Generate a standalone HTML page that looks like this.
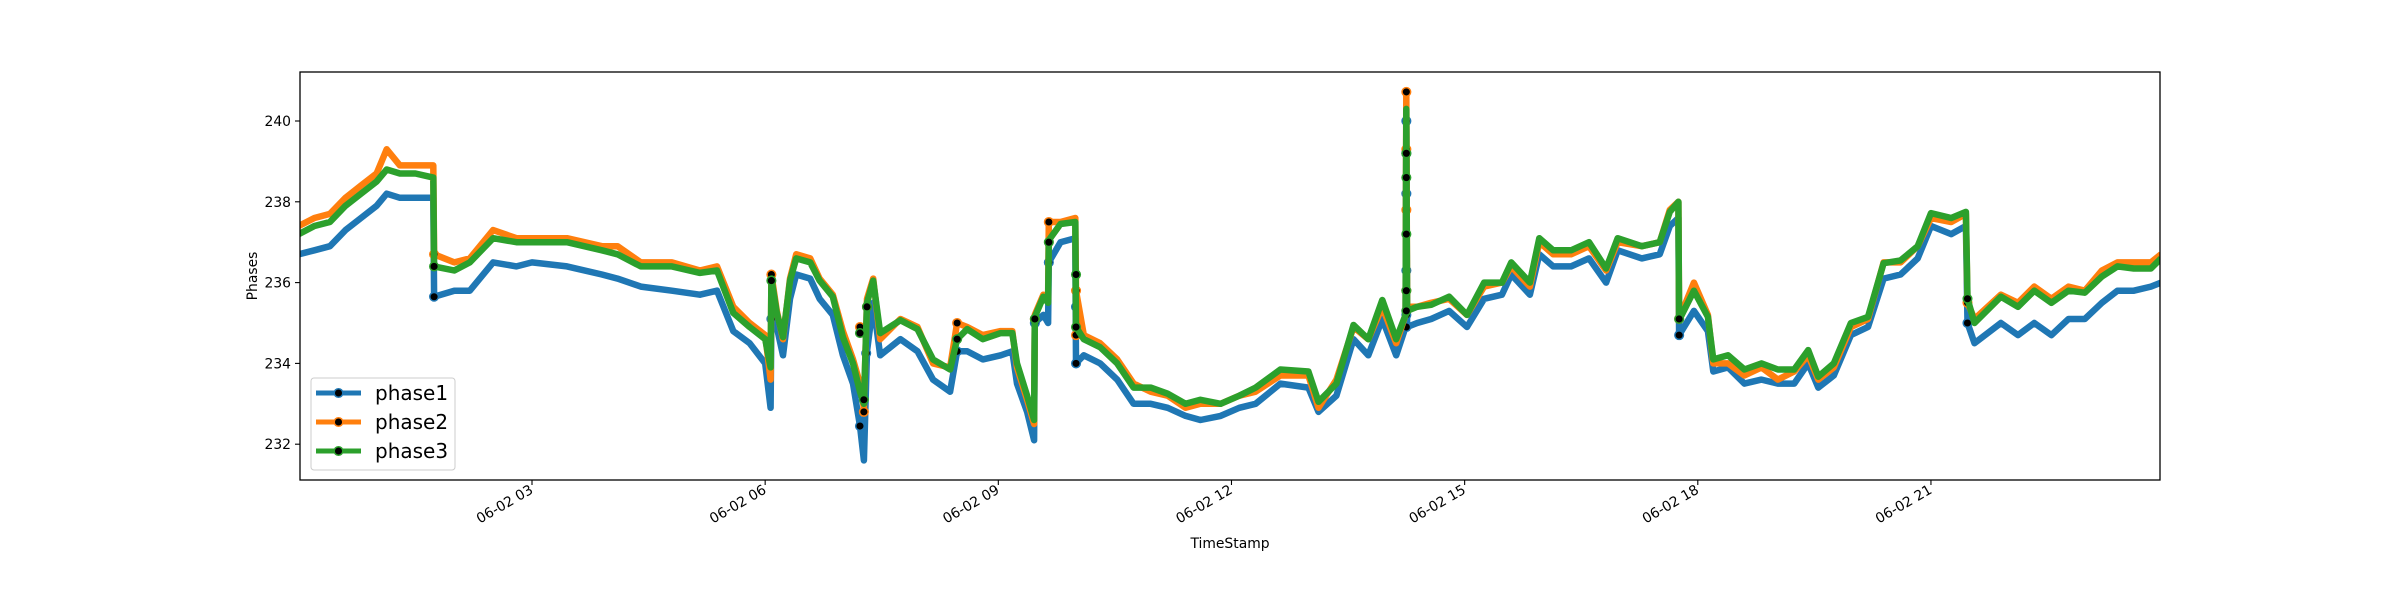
<!DOCTYPE html>
<html><head><meta charset="utf-8">
<style>
html,body{margin:0;padding:0;background:#fff;}
svg{display:block;font-family:"DejaVu Sans","Liberation Sans",sans-serif;}
</style></head>
<body>
<svg id="chart" width="2400" height="600" viewBox="0 0 2400 600" xmlns="http://www.w3.org/2000/svg">
<rect x="0" y="0" width="2400" height="600" fill="#fff"/>
<g id="plot"></g>
<g id="axes"></g>
</svg>
<script>
const times = [0,0.2,0.4,0.6,0.8,1.0,1.13,1.3,1.5,1.73,
1.74,2.0,2.2,2.5,2.8,3.0,3.45,3.9,4.1,4.4,
4.8,5.16,5.38,5.59,5.8,6.0,6.07,6.08,6.15,6.23,
6.32,6.4,6.58,6.7,6.87,7.0,7.13,7.22,7.27,7.31,
7.39,7.48,7.74,7.96,8.16,8.38,8.47,8.6,8.8,9.03,
9.18,9.24,9.37,9.46,9.47,9.58,9.64,9.65,9.8,9.99,
10.0,10.1,10.31,10.53,10.74,10.96,11.18,11.41,11.6,11.86,
12.1,12.31,12.63,12.99,13.12,13.35,13.57,13.76,13.94,14.12,
14.24,14.25,14.26,14.39,14.57,14.8,15.03,15.25,15.48,15.6,
15.84,15.96,16.14,16.37,16.6,16.82,16.97,17.28,17.51,17.64,
17.75,17.76,17.95,18.13,18.2,18.39,18.6,18.82,19.03,19.24,
19.42,19.55,19.75,19.97,20.19,20.39,20.61,20.83,21.0,21.26,
21.45,21.47,21.56,21.9,22.12,22.33,22.55,22.77,22.98,23.2,
23.4,23.61,23.83,23.96];
const phase1 = [236.7,236.8,236.9,237.3,237.6,237.9,238.2,238.1,238.1,238.1,
235.65,235.8,235.8,236.5,236.4,236.5,236.4,236.2,236.1,235.9,
235.8,235.7,235.8,234.8,234.5,234.0,232.9,235.1,234.9,234.2,
235.6,236.2,236.1,235.6,235.2,234.2,233.5,232.45,231.6,234.3,
235.5,234.2,234.6,234.3,233.6,233.3,234.3,234.3,234.1,234.2,
234.3,233.5,232.8,232.1,235.0,235.2,235.0,236.5,237.0,237.1,
234.0,234.2,234.0,233.6,233.0,233.0,232.9,232.7,232.6,232.7,
232.9,233.0,233.5,233.4,232.8,233.2,234.6,234.2,235.1,234.2,
234.9,240.0,234.9,235.0,235.1,235.3,234.9,235.6,235.7,236.2,
235.7,236.7,236.4,236.4,236.6,236.0,236.8,236.6,236.7,237.4,
237.6,234.7,235.3,234.8,233.8,233.9,233.5,233.6,233.5,233.5,
234.0,233.4,233.7,234.7,234.9,236.1,236.2,236.6,237.4,237.2,
237.4,235.0,234.5,235.0,234.7,235.0,234.7,235.1,235.1,235.5,
235.8,235.8,235.9,236.0];
const phase2 = [237.4,237.6,237.7,238.1,238.4,238.7,239.3,238.9,238.9,238.9,
236.7,236.5,236.6,237.3,237.1,237.1,237.1,236.9,236.9,236.5,
236.5,236.3,236.4,235.4,235.0,234.7,233.6,236.2,235.3,234.6,
236.1,236.7,236.6,236.1,235.7,234.8,234.1,233.5,232.9,235.6,
236.1,234.6,235.1,234.9,234.0,233.9,235.0,234.9,234.7,234.8,
234.8,233.9,233.1,232.5,235.2,235.7,235.6,237.5,237.5,237.6,
235.8,234.7,234.5,234.1,233.5,233.3,233.2,232.9,233.0,233.0,
233.2,233.3,233.7,233.7,232.9,233.6,234.9,234.6,235.4,234.5,
235.2,240.7,235.4,235.4,235.5,235.6,235.2,235.9,236.0,236.4,
235.9,237.0,236.7,236.7,236.9,236.3,237.0,236.9,237.0,237.8,
238.0,235.1,236.0,235.2,234.0,234.0,233.7,233.9,233.6,233.8,
234.2,233.6,233.9,234.9,235.1,236.5,236.5,236.9,237.6,237.5,
237.7,235.5,235.1,235.7,235.5,235.9,235.6,235.9,235.8,236.3,
236.5,236.5,236.5,236.7];
const phase3 = [237.2,237.4,237.5,237.9,238.2,238.5,238.8,238.7,238.7,238.6,
236.4,236.3,236.5,237.1,237.0,237.0,237.0,236.8,236.7,236.4,
236.4,236.24,236.3,235.25,234.9,234.6,233.9,236.1,235.25,234.65,
236.05,236.6,236.5,236.05,235.65,234.65,234.0,233.3,233.0,235.5,
236.05,234.75,235.07,234.85,234.1,233.85,234.6,234.85,234.6,234.75,
234.75,234.0,233.2,232.6,235.15,235.65,235.5,237.05,237.45,237.5,
234.9,234.6,234.4,234.0,233.4,233.4,233.25,233.0,233.1,233.0,
233.2,233.4,233.85,233.8,233.05,233.5,234.95,234.6,235.57,234.6,
235.2,240.3,235.3,235.4,235.45,235.65,235.2,236.0,236.0,236.5,
236.0,237.1,236.8,236.8,237.0,236.35,237.1,236.9,237.0,237.75,
238.0,235.07,235.8,235.15,234.1,234.2,233.85,234.0,233.85,233.85,
234.33,233.67,234.0,235.0,235.15,236.48,236.55,236.9,237.72,237.6,
237.75,235.6,235.0,235.65,235.4,235.8,235.5,235.8,235.75,236.15,
236.4,236.35,236.35,236.6];
const marker1T = [1.74,6.08,7.22,7.3,8.47,9.47,9.65,10.0,10.0,14.25,14.25,14.25,14.25,14.25,14.25,17.76,21.47];
const marker1V = [235.65,235.1,232.45,234.25,234.3,235.0,236.5,234.0,235.4,240.0,239.2,238.2,236.3,235.2,234.9,234.7,235.0];
const marker2T = [1.74,6.08,7.22,7.27,7.31,8.47,9.47,9.65,10.0,10.0,14.25,14.25,14.25,14.25,17.76,21.47];
const marker2V = [236.7,236.2,234.9,232.8,235.4,235.0,235.1,237.5,235.8,234.7,240.72,239.3,237.8,235.8,235.1,235.5];
const marker3T = [1.74,6.08,7.22,7.27,7.31,8.47,9.47,9.65,10.0,10.0,14.25,14.25,14.25,14.25,14.25,17.76,21.47];
const marker3V = [236.4,236.05,234.75,233.1,235.4,234.6,235.1,237.0,236.2,234.9,239.2,238.6,237.2,235.8,235.3,235.1,235.6];
const yTicks = [232,234,236,238,240];
const xTickHours = [3,6,9,12,15,18,21];
const xTickLabels = ["06-02 03","06-02 06","06-02 09","06-02 12","06-02 15","06-02 18","06-02 21"];
const seriesNames = ["phase1","phase2","phase3"];
const seriesColors = ["#1f77b4","#ff7f0e","#2ca02c"];

const NS = "http://www.w3.org/2000/svg";
const L = 300, R = 2160, T = 72, B = 480;
function xs(h){ return 532 + (h - 3) * 77.72; }
function ys(v){ return 121 + (240 - v) * 40.4; }
function mk(tag, attrs, parent){
  const e = document.createElementNS(NS, tag);
  for (const k in attrs) e.setAttribute(k, attrs[k]);
  parent.appendChild(e);
  return e;
}
const plot = document.getElementById('plot');
const axes = document.getElementById('axes');

const clip = mk('clipPath', {id:'clipA'}, plot);
mk('rect', {x:L, y:T, width:R-L, height:B-T}, clip);
const lines = mk('g', {'clip-path':'url(#clipA)'}, plot);



const allVals = [phase1, phase2, phase3];
const allMT = [marker1T, marker2T, marker3T];
const allMV = [marker1V, marker2V, marker3V];
for (let s = 0; s < 3; s++){
  const pts = times.map((t,i) => xs(t).toFixed(1) + ',' + ys(allVals[s][i]).toFixed(1)).join(' ');
  const pl = mk('polyline', {points:pts, fill:'none', stroke:seriesColors[s], 'stroke-width':6.5, 'stroke-linejoin':'round'}, lines);
  
  
  for (let i = 0; i < allMT[s].length; i++){
    const c = mk('circle', {cx:xs(allMT[s][i]), cy:ys(allMV[s][i]), r:4.3, fill:'#000', stroke:seriesColors[s], 'stroke-width':1.5}, lines);
    
    
  }
}

const frame = mk('rect', {x:L, y:T, width:R-L, height:B-T, fill:'none', stroke:'#000', 'stroke-width':1.3}, axes);



yTicks.forEach(v => {
  const y = ys(v);
  const tk = mk('line', {x1:L-5, x2:L, y1:y, y2:y, stroke:'#000', 'stroke-width':1.1}, axes);
  
  
  const tx = mk('text', {x:L-9, y:y+5, 'text-anchor':'end', 'font-size':13.9, fill:'#000'}, axes);
  
  
  tx.textContent = String(v);
});
xTickHours.forEach((h,i) => {
  const x = xs(h);
  const tk = mk('line', {x1:x, x2:x, y1:B, y2:B+5, stroke:'#000', 'stroke-width':1.1}, axes);
  
  
  const tx = mk('text', {x:x, y:B+13, 'text-anchor':'end', 'font-size':13.9, fill:'#000', transform:'rotate(-30 '+x+' '+(B+9)+')'}, axes);
  
  
  tx.textContent = xTickLabels[i];
});
const xt = mk('text', {x:1230, y:548, 'text-anchor':'middle', 'font-size':13.9, fill:'#000'}, axes);


xt.textContent = 'TimeStamp';
const yt = mk('text', {x:257, y:276, 'text-anchor':'middle', 'font-size':13.9, fill:'#000', transform:'rotate(-90 257 276)'}, axes);


yt.textContent = 'Phases';

const lg = mk('g', {}, axes);


mk('rect', {x:311, y:378, width:144, height:92, rx:3, fill:'#fff', 'fill-opacity':0.8, stroke:'#ccc', 'stroke-width':1}, lg);
for (let s = 0; s < 3; s++){
  const y = 393 + s * 29;
  const en = mk('g', {}, lg);
  
  
  mk('line', {x1:316, x2:361, y1:y, y2:y, stroke:seriesColors[s], 'stroke-width':5}, en);
  mk('circle', {cx:338.5, cy:y, r:4.3, fill:'#000', stroke:seriesColors[s], 'stroke-width':1.5}, en);
  const t = mk('text', {x:375, y:y+7, 'font-size':20, fill:'#000'}, en);
  t.textContent = seriesNames[s];
}
</script>
</body></html>
